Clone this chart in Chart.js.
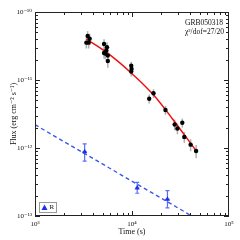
<!DOCTYPE html>
<html>
<head>
<meta charset="utf-8">
<script src="https://cdn.jsdelivr.net/npm/chart.js@4.4.0/dist/chart.umd.min.js"></script>
<style>
  html, body { margin: 0; padding: 0; background: #fff; }
  canvas { display: block; }
</style>
</head>
<body>
<canvas id="chart" width="240" height="240"></canvas>
<script>
// X-ray light curve (black points)
const xrayTime = [3490, 3660, 3385, 3575, 5150, 5525, 5435, 5150, 5300, 5630, 5630,
                  9820, 9900, 9820, 16660, 15040, 22130, 27520, 29400, 33000, 34600, 40200, 45800];
const xrayFlux = [4.44e-11, 4.05e-11, 3.54e-11, 3.54e-11, 3.38e-11, 3.03e-11, 2.72e-11, 2.50e-11, 2.45e-11, 2.29e-11, 1.90e-11,
                  1.62e-11, 1.45e-11, 1.33e-11, 6.37e-12, 5.31e-12, 3.62e-12, 2.22e-12, 1.94e-12, 2.35e-12, 1.45e-12, 1.12e-12, 9.04e-13];
// relative flux error of each x-ray point
const xrayErr = [0.18, 0.18, 0.18, 0.18, 0.18, 0.18, 0.18, 0.18, 0.18, 0.18, 0.2,
                 0.15, 0.15, 0.15, 0.15, 0.15, 0.15, 0.18, 0.18, 0.15, 0.18, 0.2, 0.22];

// Fitted model through the x-ray points (red)
const modelTime = [3385, 5309, 9820, 16540, 25940, 45800];
const modelFlux = [4.0e-11, 2.63e-11, 1.27e-11, 6.1e-12, 2.72e-12, 9.1e-13];

// R band points (blue triangles)
const rTime = [3250, 11320, 23200];
const rTimeLo = [3080, 10750, 22000];
const rTimeHi = [3420, 11900, 24400];
const rFlux = [8.8e-13, 2.58e-13, 1.76e-13];
const rFluxLo = [6.4e-13, 2.16e-13, 1.32e-13];
const rFluxHi = [1.15e-12, 3.13e-13, 2.36e-13];

// R band power-law (blue dashed)
const rFitTime = [1000, 100000];
const rFitFlux = [2.2e-12, 4.8e-14];

// Ticks
const xTickValues = [1e3, 1e4, 1e5];
const xTickLabels = ['10³', '10⁴', '10⁵'];
const yTickValues = [1e-13, 1e-12, 1e-11, 1e-10];
const yTickLabels = ['10⁻¹³', '10⁻¹²', '10⁻¹¹', '10⁻¹⁰'];

const grbName = 'GRB050318';
const chiText = 'χ²/dof=27/20';
const rLabel = 'R';

const serif = '"Liberation Serif", "DejaVu Serif", serif';
const blue = '#1f2fe8';

function toPoints(xs, ys) {
    return xs.map((x, i) => ({ x: x, y: ys[i] }));
}

// Error bars, frame, ticks, annotations and legend
const decorPlugin = {
    id: 'decor',
    beforeDatasetsDraw(chart) {
        const ctx = chart.ctx;
        const xs = chart.scales.x;
        const ys = chart.scales.y;
        ctx.save();
        // x-ray error bars
        ctx.strokeStyle = '#b0b0b0';
        ctx.lineWidth = 1.5;
        xrayTime.forEach((t, i) => {
            const px = xs.getPixelForValue(t);
            ctx.beginPath();
            ctx.moveTo(px, ys.getPixelForValue(xrayFlux[i] * (1 + xrayErr[i])));
            ctx.lineTo(px, ys.getPixelForValue(xrayFlux[i] * (1 - xrayErr[i])));
            ctx.stroke();
        });
        // R band error bars
        ctx.strokeStyle = '#5a6cff';
        ctx.lineWidth = 1.2;
        rTime.forEach((t, i) => {
            const px = xs.getPixelForValue(t);
            const py = ys.getPixelForValue(rFlux[i]);
            const top = ys.getPixelForValue(rFluxHi[i]);
            const bot = ys.getPixelForValue(rFluxLo[i]);
            const l = xs.getPixelForValue(rTimeLo[i]);
            const r = xs.getPixelForValue(rTimeHi[i]);
            ctx.beginPath();
            ctx.moveTo(px, top); ctx.lineTo(px, bot);
            ctx.moveTo(l, py); ctx.lineTo(r, py);
            ctx.moveTo(px - 2, top); ctx.lineTo(px + 2, top);
            ctx.moveTo(px - 2, bot); ctx.lineTo(px + 2, bot);
            ctx.stroke();
        });
        ctx.restore();
    },
    afterDraw(chart) {
        const ctx = chart.ctx;
        const area = chart.chartArea;
        const xs = chart.scales.x;
        const ys = chart.scales.y;
        ctx.save();
        ctx.strokeStyle = '#222';
        ctx.lineWidth = 1;
        ctx.strokeRect(Math.round(area.left) + 0.5, Math.round(area.top) + 0.5,
                       Math.round(area.right - area.left) - 1, Math.round(area.bottom - area.top) - 1);

        // minor and major ticks, pointing inwards on all four sides
        ctx.beginPath();
        for (let d = 3; d < 5; d++) {
            for (let m = 1; m < 10; m++) {
                const v = m * Math.pow(10, d);
                const px = Math.round(xs.getPixelForValue(v)) + 0.5;
                const len = m === 1 ? 5 : 3;
                ctx.moveTo(px, area.bottom); ctx.lineTo(px, area.bottom - len);
                ctx.moveTo(px, area.top); ctx.lineTo(px, area.top + len);
            }
        }
        for (let d = -13; d < -10; d++) {
            for (let m = 1; m < 10; m++) {
                const v = m * Math.pow(10, d);
                const py = Math.round(ys.getPixelForValue(v)) + 0.5;
                const len = m === 1 ? 5 : 3;
                ctx.moveTo(area.left, py); ctx.lineTo(area.left + len, py);
                ctx.moveTo(area.right, py); ctx.lineTo(area.right - len, py);
            }
        }
        ctx.stroke();

        // annotation text
        ctx.fillStyle = '#111';
        ctx.font = '7.5px ' + serif;
        ctx.textAlign = 'left';
        ctx.textBaseline = 'middle';
        ctx.fillText(grbName, 185, 23);
        ctx.fillText(chiText, 185, 32);

        // legend box
        ctx.strokeStyle = '#999';
        ctx.lineWidth = 1;
        ctx.strokeRect(39.5, 202.5, 17, 10);
        ctx.fillStyle = blue;
        ctx.beginPath();
        ctx.moveTo(44.5, 204.5); ctx.lineTo(47.5, 210); ctx.lineTo(41.5, 210);
        ctx.closePath();
        ctx.fill();
        ctx.fillStyle = '#111';
        ctx.font = '7px ' + serif;
        ctx.fillText(rLabel, 49.5, 207.5);
        ctx.restore();
    }
};

const chart = new Chart(document.getElementById('chart'), {
    type: 'scatter',
    data: {
        datasets: [
            {
                label: 'X-ray',
                data: toPoints(xrayTime, xrayFlux),
                backgroundColor: '#000',
                borderColor: '#000',
                pointRadius: 2.2,
                pointBorderWidth: 0
            },
            {
                label: rLabel,
                data: toPoints(rTime, rFlux),
                backgroundColor: blue,
                borderColor: blue,
                pointStyle: 'triangle',
                pointRadius: 3,
                pointBorderWidth: 0
            },
            {
                label: 'model',
                type: 'line',
                data: toPoints(modelTime, modelFlux),
                borderColor: '#ee1111',
                borderWidth: 1.5,
                pointRadius: 0,
                cubicInterpolationMode: 'monotone',
                fill: false
            },
            {
                label: 'R fit',
                type: 'line',
                data: toPoints(rFitTime, rFitFlux),
                borderColor: '#3a55ee',
                borderWidth: 1.4,
                borderDash: [4, 3],
                pointRadius: 0,
                fill: false
            }
        ]
    },
    options: {
        responsive: false,
        animation: false,
        layout: { padding: { top: 12, right: 11, left: 0, bottom: 0 } },
        plugins: {
            legend: { display: false },
            tooltip: { enabled: false }
        },
        scales: {
            x: {
                type: 'logarithmic',
                position: 'bottom',
                min: 1e3,
                max: 1e5,
                grid: { display: false, drawTicks: false },
                border: { display: false },
                afterBuildTicks: scale => { scale.ticks = xTickValues.map(v => ({ value: v })); },
                afterFit: scale => { scale.height = 24; },
                ticks: {
                    autoSkip: false,
                    maxRotation: 0,
                    padding: 4,
                    color: '#111',
                    font: { family: serif, size: 7 },
                    callback: (v, i) => xTickLabels[i]
                },
                title: {
                    display: true,
                    text: 'Time (s)',
                    color: '#111',
                    font: { family: serif, size: 8 },
                    padding: { top: 0, bottom: 3 }
                }
            },
            y: {
                type: 'logarithmic',
                position: 'left',
                min: 1e-13,
                max: 1e-10,
                grid: { display: false, drawTicks: false },
                border: { display: false },
                afterBuildTicks: scale => { scale.ticks = yTickValues.map(v => ({ value: v })); },
                afterFit: scale => { scale.width = 35; },
                ticks: {
                    autoSkip: false,
                    padding: 3,
                    color: '#111',
                    font: { family: serif, size: 7 },
                    callback: (v, i) => yTickLabels[i]
                },
                title: {
                    display: true,
                    text: 'Flux (erg cm⁻² s⁻¹)',
                    color: '#111',
                    font: { family: serif, size: 8 },
                    padding: { top: 9, bottom: 0 }
                }
            }
        }
    },
    plugins: [decorPlugin]
});
</script>
</body>
</html>
